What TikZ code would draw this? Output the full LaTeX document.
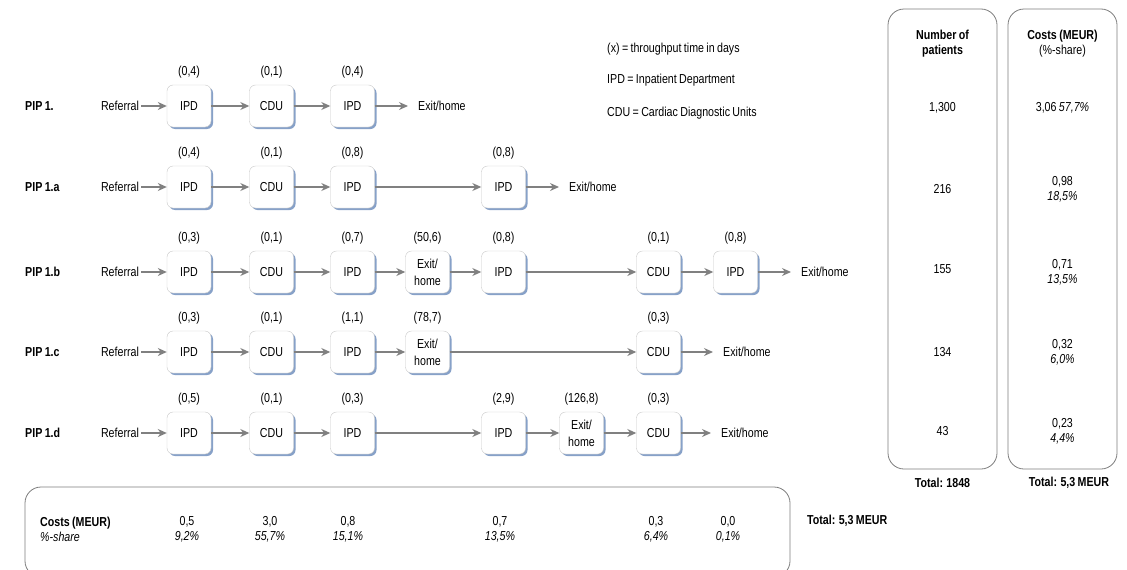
\documentclass[tikz,border=0pt]{standalone}
\usepackage{fontspec}
\setmainfont{Liberation Sans}[FakeStretch=0.82,WordSpace=0.8]
\usetikzlibrary{arrows.meta,shadows}
\definecolor{shadowblue}{RGB}{70,110,170}
\definecolor{boxline}{RGB}{200,200,200}
\definecolor{arrowgray}{RGB}{128,128,128}
\definecolor{framegray}{RGB}{125,125,125}
\begin{document}
\begin{tikzpicture}[x=1pt,y=-1pt,font=\fontsize{13}{15}\selectfont,
  unit/.style={draw=boxline,fill=white,rounded corners=6pt,minimum width=44pt,minimum height=42pt,
    inner sep=1pt,align=center,font=\fontsize{13}{17}\selectfont,
    drop shadow={shadow xshift=2pt,shadow yshift=-2pt,fill=shadowblue,opacity=0.65}},
  flow/.style={draw=arrowgray,line width=1.3pt,-{Stealth[length=9pt,width=8pt]}},
  toend/.style={flow,shorten >=8pt},
  lbl/.style={inner sep=1pt},
  pip/.style={font=\fontsize{13}{15}\selectfont\bfseries,anchor=west,inner sep=0pt},
  txt/.style={inner sep=2pt},
  endtxt/.style={inner sep=2pt,anchor=west},
  panel/.style={draw=framegray,line width=0.8pt,rounded corners=16pt,fill=none},
  bold/.style={font=\fontsize{13}{15}\selectfont\bfseries,align=center,inner sep=1pt},
  val/.style={align=center,inner sep=1pt},
  leg/.style={anchor=west,inner sep=0pt}
]
\useasboundingbox (0,0) rectangle (1127,570);

% ---------- Legend ----------
\node[leg] (leg1) at (607,49) {(x) = throughput time in days};
\node[leg] (leg2) at (607,80) {IPD = Inpatient Department};
\node[leg] (leg3) at (607,113) {CDU = Cardiac Diagnostic Units};

% ---------- Row 1 ----------
\node[pip] (p1) at (25,106) {PIP 1.};
\node[txt] (ref1) at (120,106) {Referral};
\node[unit] (a1) at (189,106) {IPD};
\node[unit] (b1) at (271.5,106) {CDU};
\node[unit] (c1) at (352.5,106) {IPD};
\node[endtxt] (x1) at (416,106) {Exit/home};
\node[lbl] (ta1) at (189,72) {(0,4)};
\node[lbl] (tb1) at (271.5,72) {(0,1)};
\node[lbl] (tc1) at (352.5,72) {(0,4)};
\draw[flow] (ref1) -- (a1);
\draw[flow] (a1) -- (b1);
\draw[flow] (b1) -- (c1);
\draw[toend] (c1) -- (x1);

% ---------- Row 2 ----------
\node[pip] (p2) at (25,187) {PIP 1.a};
\node[txt] (ref2) at (120,187) {Referral};
\node[unit] (a2) at (189,187) {IPD};
\node[unit] (b2) at (271.5,187) {CDU};
\node[unit] (c2) at (352.5,187) {IPD};
\node[unit] (e2) at (503.5,187) {IPD};
\node[endtxt] (x2) at (567,187) {Exit/home};
\node[lbl] (ta2) at (189,153) {(0,4)};
\node[lbl] (tb2) at (271.5,153) {(0,1)};
\node[lbl] (tc2) at (352.5,153) {(0,8)};
\node[lbl] (te2) at (503.5,153) {(0,8)};
\draw[flow] (ref2) -- (a2);
\draw[flow] (a2) -- (b2);
\draw[flow] (b2) -- (c2);
\draw[flow] (c2) -- (e2);
\draw[toend] (e2) -- (x2);

% ---------- Row 3 ----------
\node[pip] (p3) at (25,272) {PIP 1.b};
\node[txt] (ref3) at (120,272) {Referral};
\node[unit] (a3) at (189,272) {IPD};
\node[unit] (b3) at (271.5,272) {CDU};
\node[unit] (c3) at (352.5,272) {IPD};
\node[unit] (d3) at (427.5,272) {Exit/\\home};
\node[unit] (e3) at (503.5,272) {IPD};
\node[unit] (g3) at (658.5,272) {CDU};
\node[unit] (h3) at (735.5,272) {IPD};
\node[endtxt] (x3) at (799,272) {Exit/home};
\node[lbl] (ta3) at (189,238) {(0,3)};
\node[lbl] (tb3) at (271.5,238) {(0,1)};
\node[lbl] (tc3) at (352.5,238) {(0,7)};
\node[lbl] (td3) at (427.5,238) {(50,6)};
\node[lbl] (te3) at (503.5,238) {(0,8)};
\node[lbl] (tg3) at (658.5,238) {(0,1)};
\node[lbl] (th3) at (735.5,238) {(0,8)};
\draw[flow] (ref3) -- (a3);
\draw[flow] (a3) -- (b3);
\draw[flow] (b3) -- (c3);
\draw[flow] (c3) -- (d3);
\draw[flow] (d3) -- (e3);
\draw[flow] (e3) -- (g3);
\draw[flow] (g3) -- (h3);
\draw[toend] (h3) -- (x3);

% ---------- Row 4 ----------
\node[pip] (p4) at (25,352) {PIP 1.c};
\node[txt] (ref4) at (120,352) {Referral};
\node[unit] (a4) at (189,352) {IPD};
\node[unit] (b4) at (271.5,352) {CDU};
\node[unit] (c4) at (352.5,352) {IPD};
\node[unit] (d4) at (427.5,352) {Exit/\\home};
\node[unit] (g4) at (658.5,352) {CDU};
\node[endtxt] (x4) at (721,352) {Exit/home};
\node[lbl] (ta4) at (189,318) {(0,3)};
\node[lbl] (tb4) at (271.5,318) {(0,1)};
\node[lbl] (tc4) at (352.5,318) {(1,1)};
\node[lbl] (td4) at (427.5,318) {(78,7)};
\node[lbl] (tg4) at (658.5,318) {(0,3)};
\draw[flow] (ref4) -- (a4);
\draw[flow] (a4) -- (b4);
\draw[flow] (b4) -- (c4);
\draw[flow] (c4) -- (d4);
\draw[flow] (d4) -- (g4);
\draw[toend] (g4) -- (x4);

% ---------- Row 5 ----------
\node[pip] (p5) at (25,433) {PIP 1.d};
\node[txt] (ref5) at (120,433) {Referral};
\node[unit] (a5) at (189,433) {IPD};
\node[unit] (b5) at (271.5,433) {CDU};
\node[unit] (c5) at (352.5,433) {IPD};
\node[unit] (e5) at (503.5,433) {IPD};
\node[unit] (f5) at (581.5,433) {Exit/\\home};
\node[unit] (g5) at (658.5,433) {CDU};
\node[endtxt] (x5) at (719,433) {Exit/home};
\node[lbl] (ta5) at (189,399) {(0,5)};
\node[lbl] (tb5) at (271.5,399) {(0,1)};
\node[lbl] (tc5) at (352.5,399) {(0,3)};
\node[lbl] (te5) at (503.5,399) {(2,9)};
\node[lbl] (tf5) at (581.5,399) {(126,8)};
\node[lbl] (tg5) at (658.5,399) {(0,3)};
\draw[flow] (ref5) -- (a5);
\draw[flow] (a5) -- (b5);
\draw[flow] (b5) -- (c5);
\draw[flow] (c5) -- (e5);
\draw[flow] (e5) -- (f5);
\draw[flow] (f5) -- (g5);
\draw[toend] (g5) -- (x5);

% ---------- Right panels ----------
\draw[panel] (888,9) rectangle (997,469);
\draw[panel] (1008,9) rectangle (1117,469);
\node[bold] (nph) at (942.5,44) {Number of\\patients};
\node[val] (ch) at (1062.5,44) {\textbf{Costs (MEUR)}\\(\%-share)};
\node[val] (n1) at (942.5,108) {1,300};
\node[val] (n2) at (942.5,189) {216};
\node[val] (n3) at (942.5,269) {155};
\node[val] (n4) at (942.5,352) {134};
\node[val] (n5) at (942.5,431) {43};
\node[val] (k1) at (1062.5,108) {3,06 \textit{57,7\%}};
\node[val] (k2) at (1062.5,189) {0,98\\\textit{18,5\%}};
\node[val] (k3) at (1062.5,272) {0,71\\\textit{13,5\%}};
\node[val] (k4) at (1062.5,352) {0,32\\\textit{6,0\%}};
\node[val] (k5) at (1062.5,431) {0,23\\\textit{4,4\%}};
\node[bold] (tn) at (942.5,483) {Total: 1848};
\node[bold] (tk) at (1069,483) {Total: 5,3 MEUR};

% ---------- Bottom panel ----------
\draw[panel] (25,487) rectangle (790,577);
\node[anchor=west,align=left,inner sep=0pt] (bc) at (40,529) {\textbf{Costs (MEUR)}\\\textit{\%-share}};
\node[val] (v1) at (187,529) {0,5\\\textit{9,2\%}};
\node[val] (v2) at (270,529) {3,0\\\textit{55,7\%}};
\node[val] (v3) at (348,529) {0,8\\\textit{15,1\%}};
\node[val] (v4) at (500,529) {0,7\\\textit{13,5\%}};
\node[val] (v5) at (656,529) {0,3\\\textit{6,4\%}};
\node[val] (v6) at (728,529) {0,0\\\textit{0,1\%}};
\node[bold,anchor=west] (bt) at (806,521) {Total: 5,3 MEUR};
\end{tikzpicture}
\end{document}
